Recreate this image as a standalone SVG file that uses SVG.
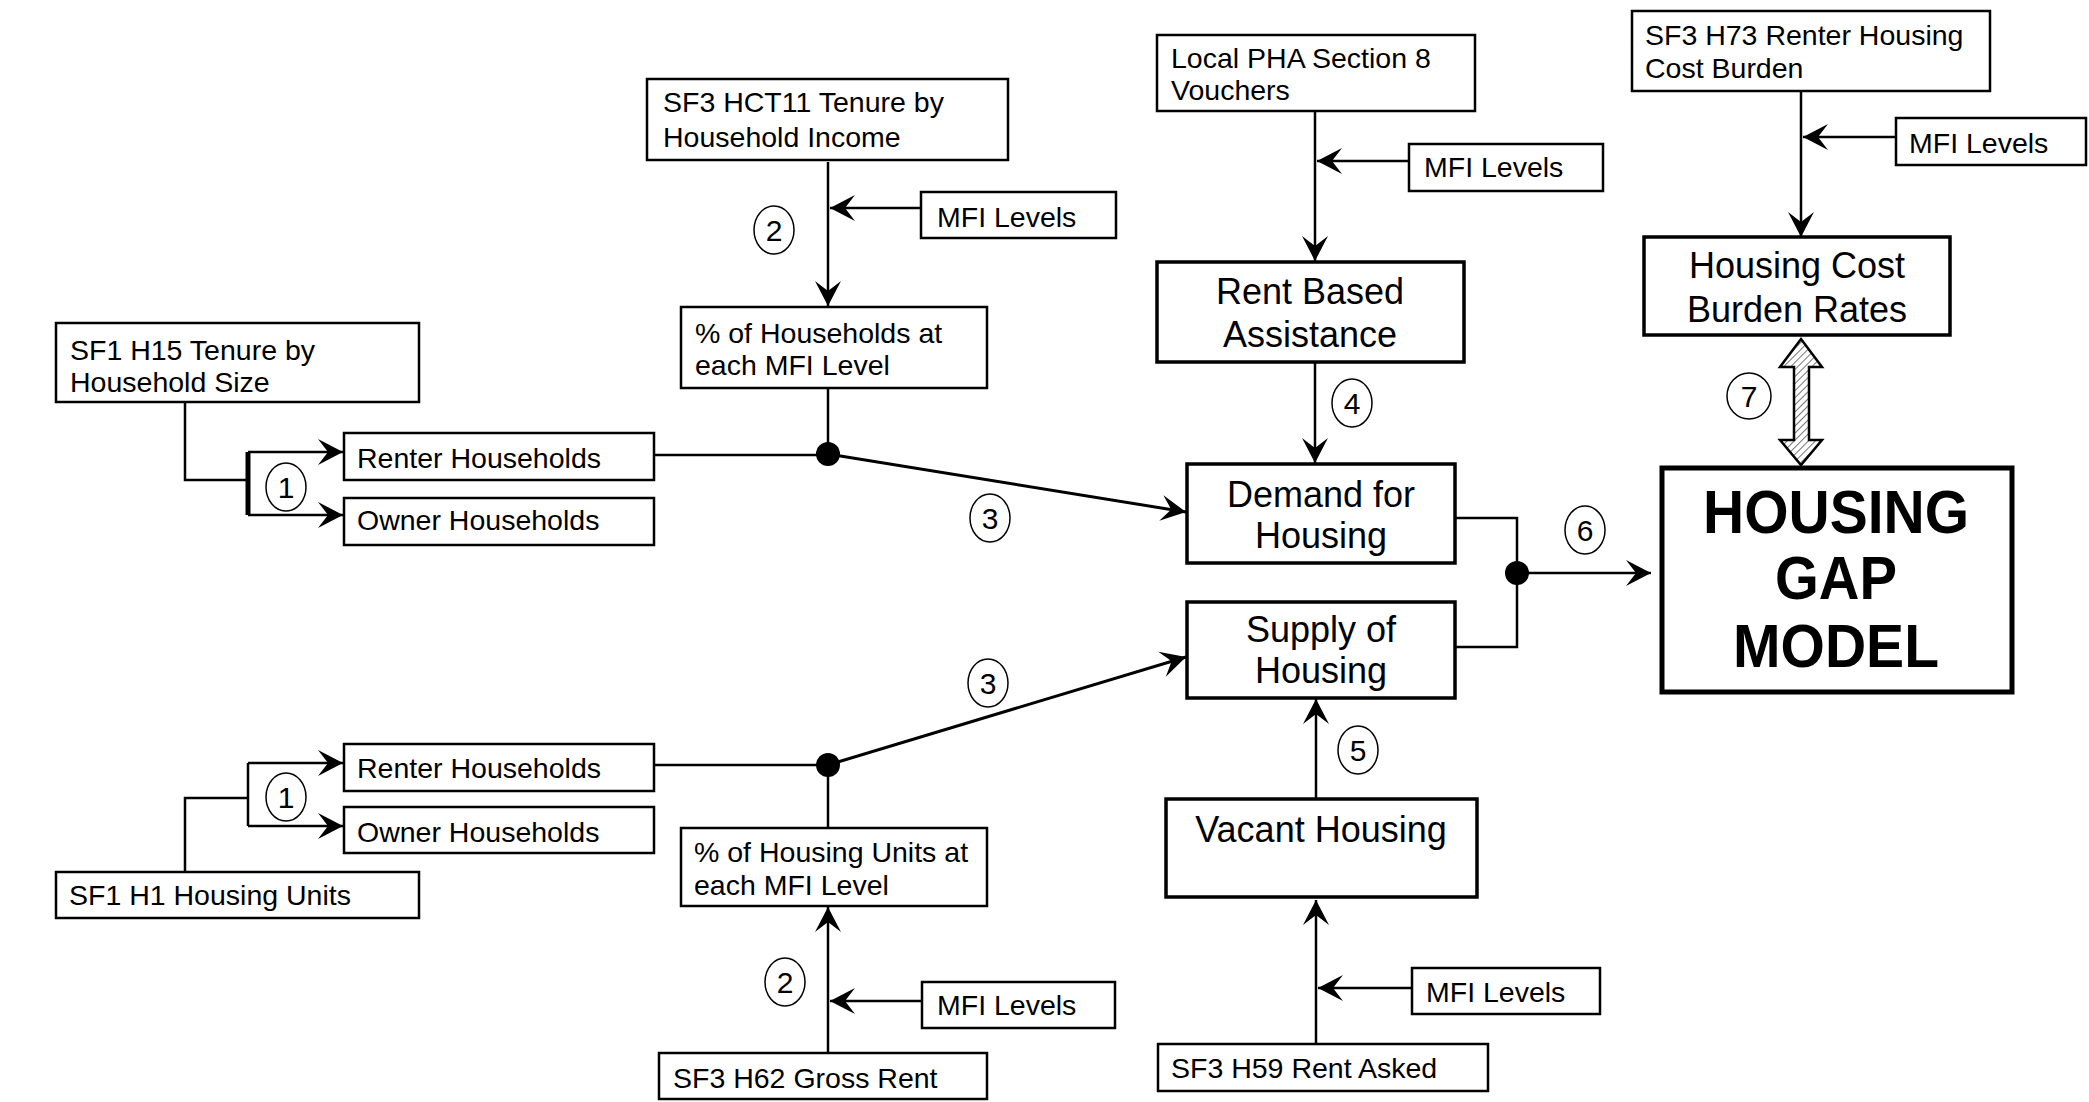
<svg xmlns="http://www.w3.org/2000/svg" width="2089" height="1102" viewBox="0 0 2089 1102">
<defs>
<style>
.box{fill:#fff;stroke:#000;stroke-width:2.5}
.mbox{fill:#fff;stroke:#000;stroke-width:3.5}
.t{font-family:"Liberation Sans",Arial,sans-serif;font-size:28.5px;fill:#000}
.tm{font-family:"Liberation Sans",Arial,sans-serif;font-size:36px;fill:#000;text-anchor:middle}
.tb{font-family:"Liberation Sans",Arial,sans-serif;font-size:62px;font-weight:bold;fill:#000;text-anchor:middle}
.ln{fill:none;stroke:#000;stroke-width:2.5}
.ar{fill:none;stroke:#000;stroke-width:2.5;marker-end:url(#ah)}
.dot{fill:#000}
.num{fill:none;stroke:#000;stroke-width:1.5}
.nt{font-family:"Liberation Sans",Arial,sans-serif;font-size:30px;fill:#000;text-anchor:middle}
</style>
<marker id="ah" viewBox="-27 -14 29 28" refX="0" refY="0" markerWidth="29" markerHeight="28" markerUnits="userSpaceOnUse" orient="auto">
<path d="M0,0 L-25,-13 L-15,0 L-25,13 Z" fill="#000"/>
</marker>
<pattern id="hatch" width="5" height="5" patternUnits="userSpaceOnUse" patternTransform="rotate(45)">
<rect width="5" height="5" fill="#fff"/>
<line x1="0" y1="0" x2="0" y2="5" stroke="#666" stroke-width="1.8"/>
</pattern>
</defs>
<rect width="2089" height="1102" fill="#fff"/>

<g id="connectors">
<path class="ln" d="M185,402 V480 H248"/>
<path class="ln" d="M248,452 V515" style="stroke-width:5"/>
<path class="ar" d="M248,452 H343"/>
<path class="ar" d="M248,515 H343"/>
<path class="ln" d="M185,872 V798 H248"/>
<path class="ln" d="M248,763 V826"/>
<path class="ar" d="M248,763 H343"/>
<path class="ar" d="M248,826 H343"/>
<path class="ar" d="M828,162 V306"/>
<path class="ar" d="M921,208 H830"/>
<path class="ln" d="M828,388 V454"/>
<path class="ln" d="M648,455 H828"/>
<path class="ar" d="M828,454 L1186,512" style="stroke-width:3"/>
<path class="ln" d="M648,765 H828"/>
<path class="ln" d="M828,765 V828"/>
<path class="ar" d="M828,1053 V907"/>
<path class="ar" d="M922,1001 H830"/>
<path class="ar" d="M828,765 L1186,657" style="stroke-width:3"/>
<path class="ar" d="M1315,111 V261"/>
<path class="ar" d="M1409,161 H1317"/>
<path class="ar" d="M1315,362 V463"/>
<path class="ar" d="M1316,799 V699"/>
<path class="ar" d="M1316,1044 V900"/>
<path class="ar" d="M1412,988 H1318"/>
<path class="ar" d="M1801,92 V237"/>
<path class="ar" d="M1896,137 H1803"/>
<path class="ln" d="M1455,518 H1517 V647 H1455"/>
<path class="ar" d="M1517,573 H1651"/>
<circle class="dot" cx="828" cy="454" r="12"/>
<circle class="dot" cx="828" cy="765" r="12"/>
<circle class="dot" cx="1517" cy="573" r="12"/>
<polygon points="1801,339 1822,367 1809,367 1809,440 1822,440 1801,465 1780,440 1794,440 1794,367 1780,367" fill="url(#hatch)" stroke="#000" stroke-width="2.5" stroke-linejoin="miter"/>
</g>

<g id="labels">
<g><ellipse class="num" cx="286" cy="487" rx="20" ry="24"/><text class="nt" x="286" y="498">1</text></g>
<g><ellipse class="num" cx="286" cy="797" rx="20" ry="24"/><text class="nt" x="286" y="808">1</text></g>
<g><ellipse class="num" cx="774" cy="230" rx="20" ry="24"/><text class="nt" x="774" y="241">2</text></g>
<g><ellipse class="num" cx="785" cy="982" rx="20" ry="24"/><text class="nt" x="785" y="993">2</text></g>
<g><ellipse class="num" cx="990" cy="518" rx="20" ry="24"/><text class="nt" x="990" y="529">3</text></g>
<g><ellipse class="num" cx="988" cy="683" rx="20" ry="24"/><text class="nt" x="988" y="694">3</text></g>
<g><ellipse class="num" cx="1352" cy="403" rx="20" ry="24"/><text class="nt" x="1352" y="414">4</text></g>
<g><ellipse class="num" cx="1358" cy="750" rx="20" ry="24"/><text class="nt" x="1358" y="761">5</text></g>
<g><ellipse class="num" cx="1585" cy="530" rx="20" ry="24"/><text class="nt" x="1585" y="541">6</text></g>
<g><ellipse class="num" cx="1749" cy="396" rx="22" ry="23"/><text class="nt" x="1749" y="407">7</text></g>
</g>

<g id="sf1-h15"><rect class="box" x="56" y="323" width="363" height="79"/><text class="t" x="70" y="360">SF1 H15 Tenure by</text><text class="t" x="70" y="392">Household Size</text></g>
<g id="renter-top"><rect class="box" x="344" y="433" width="310" height="47"/><text class="t" x="357" y="468">Renter Households</text></g>
<g id="owner-top"><rect class="box" x="344" y="498" width="310" height="47"/><text class="t" x="357" y="530">Owner Households</text></g>
<g id="renter-bottom"><rect class="box" x="344" y="744" width="310" height="47"/><text class="t" x="357" y="778">Renter Households</text></g>
<g id="owner-bottom"><rect class="box" x="344" y="807" width="310" height="46"/><text class="t" x="357" y="842">Owner Households</text></g>
<g id="sf1-h1"><rect class="box" x="56" y="872" width="363" height="46"/><text class="t" x="69" y="905">SF1 H1 Housing Units</text></g>

<g id="sf3-hct11"><rect class="box" x="647" y="79" width="361" height="81"/><text class="t" x="663" y="112">SF3 HCT11 Tenure by</text><text class="t" x="663" y="147">Household Income</text></g>
<g id="mfi-1"><rect class="box" x="921" y="192" width="195" height="46"/><text class="t" x="937" y="227">MFI Levels</text></g>
<g id="pct-households"><rect class="box" x="681" y="307" width="306" height="81"/><text class="t" x="695" y="343">% of Households at</text><text class="t" x="695" y="375">each MFI Level</text></g>

<g id="pct-units"><rect class="box" x="681" y="828" width="306" height="78"/><text class="t" x="694" y="862">% of Housing Units at</text><text class="t" x="694" y="895">each MFI Level</text></g>
<g id="mfi-2"><rect class="box" x="922" y="982" width="193" height="46"/><text class="t" x="937" y="1015">MFI Levels</text></g>
<g id="sf3-h62"><rect class="box" x="659" y="1053" width="328" height="46"/><text class="t" x="673" y="1088">SF3 H62 Gross Rent</text></g>

<g id="pha"><rect class="box" x="1157" y="35" width="318" height="76"/><text class="t" x="1171" y="68">Local PHA Section 8</text><text class="t" x="1171" y="100">Vouchers</text></g>
<g id="mfi-3"><rect class="box" x="1409" y="144" width="194" height="47"/><text class="t" x="1424" y="177">MFI Levels</text></g>
<g id="rent-based"><rect class="mbox" x="1157" y="262" width="307" height="100"/><text class="tm" x="1310" y="304">Rent Based</text><text class="tm" x="1310" y="347">Assistance</text></g>
<g id="demand"><rect class="mbox" x="1187" y="464" width="268" height="99"/><text class="tm" x="1321" y="507">Demand for</text><text class="tm" x="1321" y="548">Housing</text></g>
<g id="supply"><rect class="mbox" x="1187" y="602" width="268" height="96"/><text class="tm" x="1321" y="642">Supply of</text><text class="tm" x="1321" y="683">Housing</text></g>
<g id="vacant"><rect class="mbox" x="1166" y="799" width="311" height="98"/><text class="tm" x="1321" y="842">Vacant Housing</text></g>
<g id="mfi-4"><rect class="box" x="1412" y="968" width="188" height="46"/><text class="t" x="1426" y="1002">MFI Levels</text></g>
<g id="sf3-h59"><rect class="box" x="1158" y="1044" width="330" height="47"/><text class="t" x="1171" y="1078">SF3 H59 Rent Asked</text></g>

<g id="sf3-h73"><rect class="box" x="1632" y="11" width="358" height="80"/><text class="t" x="1645" y="45">SF3 H73 Renter Housing</text><text class="t" x="1645" y="78">Cost Burden</text></g>
<g id="mfi-5"><rect class="box" x="1896" y="118" width="190" height="47"/><text class="t" x="1909" y="153">MFI Levels</text></g>
<g id="cost-burden"><rect class="mbox" x="1644" y="237" width="306" height="98"/><text class="tm" x="1797" y="278">Housing Cost</text><text class="tm" x="1797" y="322">Burden Rates</text></g>
<g id="gap-model"><rect fill="#fff" stroke="#000" stroke-width="5" x="1662" y="468" width="350" height="224"/><text class="tb" x="1836" y="533" textLength="266" lengthAdjust="spacingAndGlyphs">HOUSING</text><text class="tb" x="1836" y="599" textLength="122" lengthAdjust="spacingAndGlyphs">GAP</text><text class="tb" x="1836" y="667" textLength="206" lengthAdjust="spacingAndGlyphs">MODEL</text></g>
</svg>
